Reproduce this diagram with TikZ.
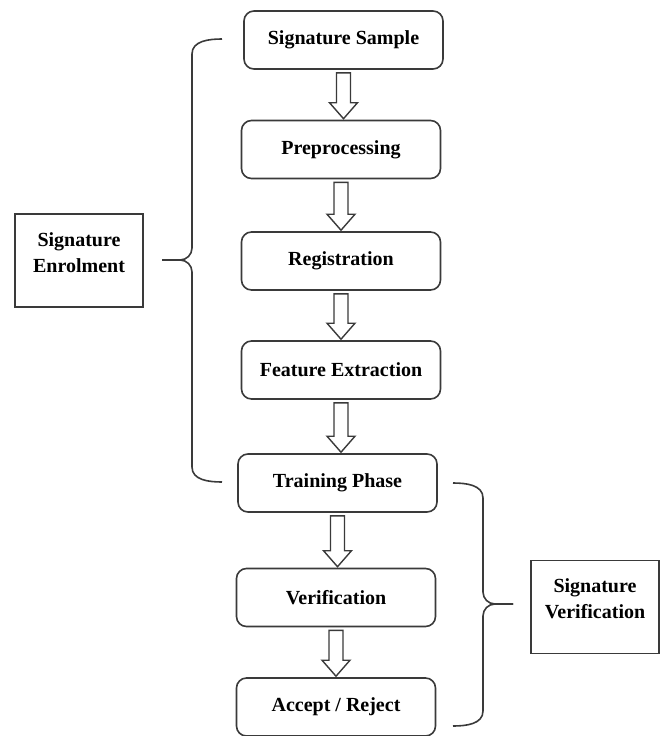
\documentclass[tikz,border=0pt]{standalone}
\usepackage{fontspec}
\setmainfont{Liberation Serif}
\usepackage{tikz}
\usetikzlibrary{calc, positioning}

\definecolor{linegray}{RGB}{58,58,58}

% hollow block arrow from the bottom of one box to the top of the next
\newcommand{\flowarrow}[2]{%
  \draw[arrowline] let \p1=($(#1.south)+(0,-3pt)$), \p2=($(#2.north)+(0,1pt)$) in
    (\x1-7pt,\y1) -- (\x1+7pt,\y1) -- (\x1+7pt,\y2+16pt) -- (\x1+14pt,\y2+16pt)
    -- (\x1,\y2) -- (\x1-14pt,\y2+16pt) -- (\x1-7pt,\y2+16pt) -- cycle;}

\begin{document}
\begin{tikzpicture}[x=1pt,y=-1pt,
  every node/.style={font=\fontsize{20}{26}\selectfont\bfseries},
  stage/.style={draw=linegray,line width=1.6pt,rounded corners=10pt,
    minimum width=199pt,minimum height=58pt,inner sep=0pt},
  phase/.style={draw=linegray,line width=1.6pt,
    minimum width=128pt,minimum height=93pt,inner sep=0pt},
  phasetext/.style={align=center,yshift=8pt},
  arrowline/.style={draw=linegray,line width=1.4pt,fill=white,line join=miter},
  brace/.style={draw=linegray,line width=1.6pt}]

  \useasboundingbox (0,0) rectangle (664,736);

  \node[stage] (sample)   at (343.5,40)  {Signature Sample};
  \node[stage] (preproc)  at (341,149.5) {Preprocessing};
  \node[stage] (regist)   at (341,261)   {Registration};
  \node[stage] (featext)  at (341,370)   {Feature Extraction};
  \node[stage] (training) at (337.5,483) {Training Phase};
  \node[stage] (verif)    at (336,597.5) {Verification};
  \node[stage] (decision) at (336,707)   {Accept / Reject};

  \node[phase,label={[phasetext]center:{Signature\\Enrolment}}]
    (enrol) at (79,260.5) {};
  \node[phase,label={[phasetext]center:{Signature\\Verification}}]
    (verifside) at (595,607) {};

  \flowarrow{sample}{preproc}
  \flowarrow{preproc}{regist}
  \flowarrow{regist}{featext}
  \flowarrow{featext}{training}
  \flowarrow{training}{verif}
  \flowarrow{verif}{decision}

  % left brace (enrolment)
  \coordinate (ltip) at (162,260);
  \draw[brace] (222,39) to[out=180,in=90] (192,54) -- (192,248)
    to[out=-90,in=0] (180,260) -- (ltip);
  \draw[brace] (ltip) -- (180,260) to[out=0,in=90] (192,272)
    -- (192,467) to[out=-90,in=180] (222,482);

  % right brace (verification)
  \coordinate (rtip) at (513,604);
  \draw[brace] (453,483) to[out=0,in=90] (483,498) -- (483,592)
    to[out=-90,in=180] (495,604) -- (rtip);
  \draw[brace] (rtip) -- (495,604) to[out=180,in=90] (483,616)
    -- (483,711) to[out=-90,in=0] (453,726);
\end{tikzpicture}
\end{document}
